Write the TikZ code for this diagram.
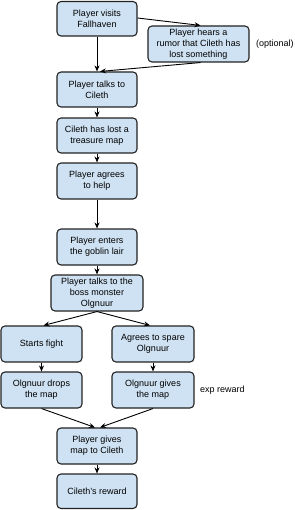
\documentclass[tikz,border=0pt]{standalone}
\usepackage{fontspec}
\setmainfont{Liberation Sans}
\usetikzlibrary{arrows.meta}
\definecolor{boxfill}{HTML}{CFE2F3}
\definecolor{boxline}{HTML}{222222}
\begin{document}
\begin{tikzpicture}[x=1pt,y=-1pt,
  box/.style={draw=boxline,fill=boxfill,line width=1.1pt,rounded corners=4pt,
    align=center,font=\fontsize{9}{10.7}\selectfont,inner sep=0pt},
  conn/.style={draw=black,line width=0.9pt,-{Stealth[length=6pt,width=5pt]}},
  note/.style={font=\fontsize{9}{10.7}\selectfont,inner sep=0pt}]
\useasboundingbox (0,0) rectangle (294,510);
\newcommand{\bx}[6]{\node[box,minimum width=#4-#2,minimum height=#5-#3] (#1) at ({(#2+#4)/2},{(#3+#5)/2}) {#6};}
\bx{visit}{57}{1.5}{137}{36}{Player visits\\Fallhaven}
\bx{rumor}{148}{26}{249}{62}{Player hears a\\rumor that Cileth has\\lost something}
\bx{talk}{57}{72}{137}{107}{Player talks to\\Cileth}
\bx{lost}{57}{118}{137}{153}{Cileth has lost a\\treasure map}
\bx{agree}{57}{163}{137}{199}{Player agrees\\to help}
\bx{enter}{57}{229}{137}{265}{Player enters\\the goblin lair}
\bx{boss}{51}{275}{143}{311}{Player talks to the\\boss monster\\Olgnuur}
\bx{fight}{1}{326}{82}{362}{Starts fight}
\bx{spare}{112}{326}{194}{362}{Agrees to spare\\Olgnuur}
\bx{drops}{1}{372}{82}{408}{Olgnuur drops\\the map}
\bx{gives}{112}{372}{194}{408}{Olgnuur gives\\the map}
\bx{give}{57}{428}{137}{464}{Player gives\\map to Cileth}
\bx{reward}{57}{474}{137}{508.5}{Cileth's reward}
\node[note,anchor=west] (opt) at (256,44) {(optional)};
\node[note,anchor=west] (exp) at (200,390) {exp reward};
\coordinate (talkin) at ([xshift=3pt]talk.north);
\draw[conn] (visit) -- (talk);
\draw[conn] (visit.east |- 0,18) -- ([xshift=2pt]rumor.north);
\draw[conn] ([xshift=2pt]rumor.south) -- (talkin);
\draw[conn] (talk) -- (lost);
\draw[conn] (lost) -- (agree);
\draw[conn] (agree) -- (enter);
\draw[conn] (enter) -- (boss);
\draw[conn] (boss.south) -- ([xshift=2pt]fight.north);
\draw[conn] (boss.south) -- ([xshift=-3pt]spare.north);
\draw[conn] (fight) -- (drops);
\draw[conn] (spare) -- (gives);
\draw[conn] (drops.south) -- ([xshift=-2pt]give.north);
\draw[conn] (gives.south) -- ([xshift=3pt]give.north);
\draw[conn] (give) -- (reward);
\end{tikzpicture}
\end{document}
